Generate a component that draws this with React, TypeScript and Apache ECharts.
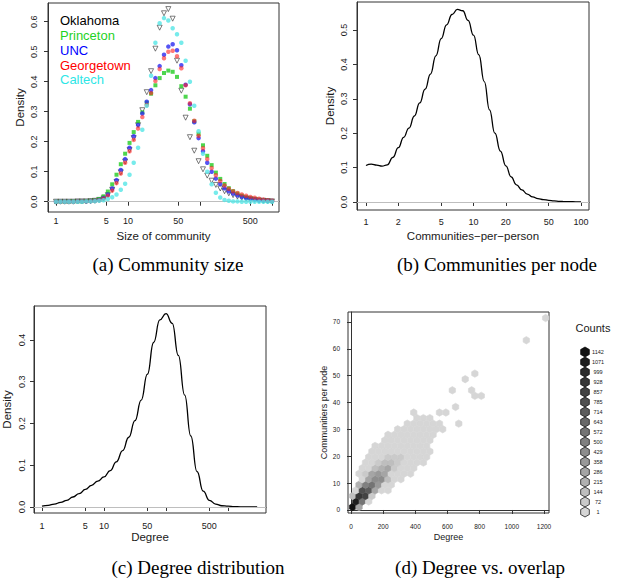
import React, { useEffect, useRef } from "react";
import * as echarts from "echarts";

// ---------- (a) Community size ----------
const communitySize = [
  1, 1.15, 1.32, 1.51, 1.74, 2.0, 2.29, 2.63, 3.02, 3.47,
  3.98, 4.57, 5.25, 6.03, 6.92, 7.94, 9.12, 10.5, 12.0, 13.8,
  15.8, 18.2, 20.9, 24.0, 27.5, 31.6, 36.3, 41.7, 47.9, 55.0,
  63.1, 72.4, 83.2, 95.5, 110, 126, 145, 166, 191, 219,
  251, 288, 331, 380, 437, 501, 575, 661, 759, 871,
  1000,
];
const oklahoma = [
  0, 0, 0, 0, 0, 0.001, 0.001, 0.001, 0.002, 0.003,
  0.006, 0.011, 0.022, 0.04, 0.066, 0.098, 0.134, 0.172, 0.212, 0.255,
  0.305, 0.365, 0.435, 0.51, 0.58, 0.628, 0.642, 0.61, 0.47, 0.37,
  0.28, 0.215, 0.17, 0.135, 0.108, 0.087, 0.07, 0.056, 0.044, 0.035,
  0.028, 0.022, 0.017, 0.013, 0.01, 0.008, 0.006, 0.004, 0.003, 0.002,
  0.001,
];
const princeton = [
  0, 0, 0, 0, 0.001, 0.001, 0.001, 0.002, 0.003, 0.005,
  0.009, 0.018, 0.034, 0.058, 0.09, 0.125, 0.16, 0.196, 0.232, 0.266,
  0.298, 0.33, 0.36, 0.388, 0.412, 0.429, 0.437, 0.433, 0.416, 0.385,
  0.35, 0.31, 0.268, 0.226, 0.188, 0.153, 0.122, 0.097, 0.076, 0.059,
  0.045, 0.035, 0.027, 0.02, 0.015, 0.011, 0.008, 0.006, 0.004, 0.003,
  0.002,
];
const unc = [
  0, 0, 0, 0, 0, 0.001, 0.001, 0.001, 0.002, 0.003,
  0.006, 0.012, 0.024, 0.044, 0.072, 0.106, 0.142, 0.18, 0.218, 0.256,
  0.294, 0.333, 0.372, 0.412, 0.452, 0.49, 0.517, 0.525, 0.505, 0.455,
  0.39, 0.325, 0.265, 0.212, 0.168, 0.13, 0.1, 0.077, 0.059, 0.045,
  0.035, 0.027, 0.021, 0.016, 0.012, 0.009, 0.007, 0.005, 0.004, 0.003,
  0.002,
];
const georgetown = [
  0, 0, 0, 0, 0, 0.001, 0.001, 0.001, 0.002, 0.003,
  0.005, 0.01, 0.02, 0.037, 0.062, 0.094, 0.13, 0.168, 0.206, 0.244,
  0.282, 0.322, 0.362, 0.402, 0.442, 0.478, 0.5, 0.503, 0.485, 0.445,
  0.388, 0.328, 0.27, 0.22, 0.178, 0.142, 0.112, 0.088, 0.069, 0.054,
  0.043, 0.035, 0.029, 0.024, 0.02, 0.016, 0.013, 0.01, 0.007, 0.005,
  0.003,
];
const caltech = [
  0, 0, 0, 0, 0, 0, 0, 0.001, 0.001, 0.002,
  0.003, 0.005, 0.009, 0.015, 0.024, 0.04, 0.06, 0.09, 0.13, 0.18,
  0.24, 0.32, 0.42, 0.53, 0.595, 0.612, 0.604, 0.578, 0.558, 0.53,
  0.47, 0.4, 0.32, 0.235, 0.16, 0.1, 0.058, 0.03, 0.014, 0.006,
  0.003, 0.001, 0.001, 0, 0, 0, 0, 0, 0, 0,
  0,
];
const schoolNames = ["Oklahoma", "Princeton", "UNC", "Georgetown", "Caltech"];
const schoolTextColors = ["#000000", "#1fd21f", "#0000ff", "#ff0000", "#2ee6e6"];
const sizeTicks = [1, 5, 10, 50, 100, 500, 1000];
const sizeTickLabels = [1, 5, 10, 50, 500];
const densityTicksA = [0, 0.1, 0.2, 0.3, 0.4, 0.5, 0.6];

// ---------- (b) Communities per node ----------
const cppX = [
  1, 1.12, 1.26, 1.41, 1.58, 1.78, 2.0, 2.24, 2.51, 2.82,
  3.16, 3.55, 3.98, 4.47, 5.01, 5.62, 6.31, 7.08, 7.94, 8.91,
  10, 11.2, 12.6, 14.1, 15.8, 17.8, 20, 22.4, 25.1, 28.2,
  31.6, 35.5, 39.8, 44.7, 50.1, 56.2, 63.1, 70.8, 79.4, 89.1,
  100,
];
const cppDensity = [
  0.106, 0.11, 0.107, 0.104, 0.108, 0.13, 0.158, 0.188, 0.215, 0.25,
  0.288, 0.328, 0.372, 0.425, 0.475, 0.515, 0.545, 0.56, 0.556, 0.528,
  0.485, 0.428, 0.35, 0.268, 0.2, 0.148, 0.105, 0.073, 0.05, 0.035,
  0.023, 0.015, 0.01, 0.007, 0.005, 0.003, 0.002, 0.001, 0.001, 0.0005,
  0.0002,
];
const cppTicks = [1, 2, 5, 10, 20, 50, 100];
const densityTicksB = [0, 0.1, 0.2, 0.3, 0.4, 0.5];

// ---------- (c) Degree distribution ----------
const degreeX = [
  1, 1.26, 1.58, 2.0, 2.51, 3.16, 3.98, 5.01, 6.31, 7.94,
  10, 12.6, 15.8, 20.0, 25.1, 31.6, 39.8, 50.1, 63.1, 79.4,
  100, 126, 158, 200, 251, 316, 398, 501, 631, 794,
  1000, 1259, 1585, 1995, 2512, 2951,
];
const degreeDensity = [
  0.002, 0.004, 0.007, 0.011, 0.016, 0.024, 0.032, 0.042, 0.052, 0.062,
  0.072, 0.087, 0.108, 0.135, 0.167, 0.207, 0.256, 0.318, 0.394, 0.448,
  0.463, 0.44, 0.363, 0.268, 0.17, 0.085, 0.038, 0.016, 0.007, 0.003,
  0.002, 0.001, 0.0005, 0.0003, 0.0002, 0.0001,
];
const degreeTicks = [1, 5, 10, 50, 100, 500, 1000];
const degreeTickLabels = [1, 5, 10, 50, 500];
const densityTicksC = [0, 0.1, 0.2, 0.3, 0.4];

// ---------- (d) Degree vs. overlap (hexbin) ----------
const HEX_COL_WIDTH = 40; // degree units between cell centres in a row
const HEX_ROW_HEIGHT = 2.07; // communities-per-node units between rows
const HEX_X0 = 10;
const HEX_Y0 = 1.1;
// [row, first column, counts of consecutive cells]
const hexRows: [number, number, number[]][] = [
  [0, 0, [1142, 286]],
  [1, 0, [1071, 572, 40]],
  [2, 0, [144, 928, 857, 72]],
  [3, 0, [30, 785, 714, 286, 15, 5]],
  [4, 1, [215, 500, 572, 358, 40, 6]],
  [5, 1, [60, 286, 429, 429, 144, 20, 5]],
  [6, 1, [20, 100, 286, 358, 286, 60, 15, 4, 1]],
  [7, 1, [10, 40, 144, 215, 286, 100, 30, 10, 3]],
  [8, 2, [15, 40, 100, 144, 180, 100, 30, 8, 2, 1]],
  [9, 2, [10, 20, 40, 72, 100, 72, 30, 10, 3, 1]],
  [10, 3, [10, 30, 50, 60, 40, 25, 12, 6, 3, 1]],
  [11, 3, [5, 15, 30, 40, 40, 30, 15, 8, 4]],
  [12, 5, [8, 15, 25, 25, 18, 10, 5, 2]],
  [13, 5, [3, 8, 12, 15, 12, 8, 4, 2]],
  [14, 7, [3, 6, 8, 8, 6, 3, 2, 1]],
  [15, 8, [2, 4, 5, 4, 2, 1]],
  [15, 16, [1]],
  [16, 10, [1, 2, 1]],
  [17, 9, [1]],
  [17, 13, [1, 1]],
  [18, 16, [1]],
  [20, 19, [1, 1]],
  [21, 15, [1]],
  [21, 18, [1]],
  [23, 17, [1]],
  [24, 19, [1]],
  [30, 27, [1]],
  [34, 30, [1]],
];
const countLevels = [1, 72, 144, 215, 286, 358, 429, 500, 572, 643, 714, 785, 857, 928, 999, 1071, 1142];
const degreeTicksD = [0, 200, 400, 600, 800, 1000, 1200];
const cpnTicks = [0, 10, 20, 30, 40, 50, 60, 70];

// ---------- helpers ----------
const levelGray = (k: number) => {
  const g = Math.round(214 - k * 12.25);
  return `rgb(${g},${g},${g})`;
};
const countColor = (c: number) => {
  let k = 0;
  for (let i = 0; i < countLevels.length; i++) if (c >= countLevels[i]) k = i;
  return levelGray(k);
};

const hexCells: number[][] = [];
hexRows.forEach(([row, start, counts]) => {
  counts.forEach((c, k) => {
    const col = start + k;
    hexCells.push([
      HEX_X0 + HEX_COL_WIDTH * (col + (row % 2 ? 0.5 : 0)),
      HEX_Y0 + HEX_ROW_HEIGHT * row,
      c,
    ]);
  });
});

const SANS = "Liberation Sans";
const SERIF = "Liberation Serif";
const INK = "#1a1a1a";
const BOX = "#333";

const zeroLine = {
  silent: true,
  symbol: ["none", "none"],
  label: { show: false },
  lineStyle: { color: "#bebebe", type: "solid", width: 1 },
  data: [{ yAxis: 0 }],
};

const gridBase = { show: true, borderColor: BOX, borderWidth: 1, outerBoundsMode: "none", containLabel: false };

const logX = (
  gridIndex: number,
  min: number,
  max: number,
  ticks: number[],
  labels: number[],
  name: string,
  margin: number,
  nameGap: number
) => ({
  type: "log",
  logBase: 10,
  gridIndex,
  min,
  max,
  name,
  nameLocation: "middle",
  nameGap,
  nameTextStyle: { fontSize: 11.5, color: INK, fontFamily: SANS },
  axisLine: { show: true, lineStyle: { color: BOX, width: 1 } },
  splitLine: { show: false },
  minorTick: { show: false },
  axisTick: { show: true, inside: false, length: 4, customValues: ticks, lineStyle: { color: BOX } },
  axisLabel: {
    customValues: labels,
    fontSize: 9,
    color: INK,
    fontFamily: SANS,
    margin,
    formatter: (v: number) => String(Math.round(v)),
  },
});

const densY = (
  gridIndex: number,
  min: number,
  max: number,
  ticks: number[],
  margin: number,
  nameGap: number
) => ({
  type: "value",
  gridIndex,
  min,
  max,
  name: "Density",
  nameLocation: "middle",
  nameGap,
  nameTextStyle: { fontSize: 11.5, color: INK, fontFamily: SANS },
  axisLine: { show: true, lineStyle: { color: BOX, width: 1 } },
  splitLine: { show: false },
  axisTick: { show: true, inside: false, length: 4, customValues: ticks, lineStyle: { color: BOX } },
  axisLabel: {
    customValues: ticks,
    rotate: 90,
    fontSize: 9,
    color: INK,
    fontFamily: SANS,
    margin,
    formatter: (v: number) => v.toFixed(1),
  },
});

const schoolSeries = [
  { data: oklahoma, symbol: "triangle", size: 5, rotate: 180, item: { color: "rgba(255,255,255,0)", borderColor: "#333", borderWidth: 0.8 } },
  { data: princeton, symbol: "rect", size: 4, rotate: 0, item: { color: "#22cc22" } },
  { data: unc, symbol: "circle", size: 4.5, rotate: 0, item: { color: "#2a2af0" } },
  { data: georgetown, symbol: "circle", size: 4.5, rotate: 0, item: { color: "rgba(255,30,30,0.75)" } },
  { data: caltech, symbol: "circle", size: 4.5, rotate: 0, item: { color: "#55e6e6" } },
].map((s, i) => ({
  type: "scatter",
  name: schoolNames[i],
  xAxisIndex: 0,
  yAxisIndex: 0,
  symbol: s.symbol,
  symbolSize: s.size,
  symbolRotate: s.rotate,
  itemStyle: s.item,
  data: communitySize.map((x, k) => [x, s.data[k]]),
  markLine: i === 0 ? zeroLine : undefined,
  z: 3 + i,
}));

// hex legend graphics
const legendHexR = 5;
const hexPoints = (cx: number, cy: number, r: number) => {
  const pts: number[][] = [];
  for (let k = 0; k < 6; k++) {
    const a = ((60 * k + 30) * Math.PI) / 180;
    pts.push([cx + r * Math.cos(a), cy + r * Math.sin(a)]);
  }
  return pts;
};
const hexLegend: any[] = [];
const levelsDesc = countLevels.slice().reverse();
levelsDesc.forEach((lv, i) => {
  const cy = 352 + i * 10;
  const k = countLevels.length - 1 - i;
  hexLegend.push({
    type: "polygon",
    shape: { points: hexPoints(585, cy, legendHexR) },
    style: { fill: levelGray(k), stroke: "#000", lineWidth: 0.7 },
    z: 10,
  });
  hexLegend.push({
    type: "text",
    style: {
      text: String(lv),
      x: 598,
      y: cy,
      fill: INK,
      fontSize: 5.5,
      fontFamily: SANS,
      align: "center",
      verticalAlign: "middle",
      textAlign: "center",
      textVerticalAlign: "middle",
    },
    z: 10,
  });
});

const txt = (text: string, x: number, y: number, size: number, family: string, color: string, align = "left") => ({
  type: "text",
  style: {
    text,
    x,
    y,
    fill: color,
    fontSize: size,
    fontFamily: family,
    align,
    verticalAlign: "middle",
    textAlign: align,
    textVerticalAlign: "middle",
  },
  z: 10,
});

const option: any = {
  animation: false,
  backgroundColor: "#ffffff",
  textStyle: { fontFamily: SANS },
  grid: [
    { ...gridBase, left: 48, top: 3, width: 231, height: 209 },
    { ...gridBase, left: 357, top: 2, width: 232, height: 208 },
    { ...gridBase, left: 34, top: 306, width: 232, height: 207 },
    { ...gridBase, left: 348, top: 312, width: 201, height: 201 },
  ],
  xAxis: [
    logX(0, 0.774, 1250, sizeTicks, sizeTickLabels, "Size of community", 4, 18),
    logX(1, 0.825, 118.7, cppTicks, cppTicks, "Communities\u2212per\u2212person", 7, 20),
    logX(2, 0.743, 4100, degreeTicks, degreeTickLabels, "Degree", 8, 18),
    {
      type: "value",
      gridIndex: 3,
      min: -18.7,
      max: 1231,
      name: "Degree",
      nameLocation: "middle",
      nameGap: 19,
      nameTextStyle: { fontSize: 9, color: INK, fontFamily: SANS },
      axisLine: { show: true, lineStyle: { color: BOX } },
      splitLine: { show: false },
      axisTick: { show: true, inside: false, length: 4, customValues: degreeTicksD, lineStyle: { color: BOX } },
      axisLabel: {
        customValues: degreeTicksD,
        fontSize: 6.5,
        color: INK,
        fontFamily: SANS,
        margin: 10,
        formatter: (v: number) => String(v),
      },
    },
  ],
  yAxis: [
    densY(0, -0.0343, 0.6623, densityTicksA, 10, 22),
    densY(1, -0.02326, 0.5814, densityTicksB, 9, 21),
    densY(2, -0.01437, 0.4814, densityTicksC, 8, 21),
    {
      type: "value",
      gridIndex: 3,
      min: -1.117,
      max: 73.72,
      name: "Communitiers per node",
      nameLocation: "middle",
      nameGap: 20,
      nameTextStyle: { fontSize: 9, color: INK, fontFamily: SANS },
      axisLine: { show: true, lineStyle: { color: BOX } },
      splitLine: { show: false },
      axisTick: { show: true, inside: false, length: 4, customValues: cpnTicks, lineStyle: { color: BOX } },
      axisLabel: {
        customValues: cpnTicks,
        fontSize: 6.5,
        color: INK,
        fontFamily: SANS,
        margin: 8,
        formatter: (v: number) => String(v),
      },
    },
  ],
  series: [
    ...schoolSeries,
    {
      type: "line",
      name: "Communities per node",
      xAxisIndex: 1,
      yAxisIndex: 1,
      showSymbol: false,
      smooth: 0.5,
      smoothMonotone: "x",
      lineStyle: { color: "#000", width: 1.3 },
      data: cppX.map((x, i) => [x, cppDensity[i]]),
      markLine: zeroLine,
    },
    {
      type: "line",
      name: "Degree distribution",
      xAxisIndex: 2,
      yAxisIndex: 2,
      showSymbol: false,
      smooth: 0.5,
      smoothMonotone: "x",
      lineStyle: { color: "#000", width: 1.3 },
      data: degreeX.map((x, i) => [x, degreeDensity[i]]),
      markLine: zeroLine,
    },
    {
      type: "custom",
      name: "Counts",
      xAxisIndex: 3,
      yAxisIndex: 3,
      encode: { x: 0, y: 1 },
      data: hexCells,
      renderItem: (params: any, api: any) => {
        const c = api.coord([api.value(0), api.value(1)]);
        const w = api.size([HEX_COL_WIDTH, 0])[0];
        const r = w / Math.sqrt(3);
        const col = countColor(api.value(2));
        return {
          type: "polygon",
          shape: { points: hexPoints(c[0], c[1], r) },
          style: { fill: col, stroke: col, lineWidth: 0.6 },
        };
      },
    },
  ],
  graphic: [
    ...schoolNames.map((n, i) => txt(n, 60, 20.7 + i * 14.8, 13, SANS, schoolTextColors[i])),
    txt("(a) Community size", 168, 264, 19, SERIF, "#000", "center"),
    txt("(b) Communities per node", 497, 264, 19, SERIF, "#000", "center"),
    txt("(c) Degree distribution", 198, 567, 19, SERIF, "#000", "center"),
    txt("(d) Degree vs. overlap", 480, 567, 19, SERIF, "#000", "center"),
    txt("Counts", 593, 328, 11, SANS, INK, "center"),
    ...hexLegend,
  ],
};

export default function App() {
  const ref = useRef<HTMLDivElement>(null);
  useEffect(() => {
    document.body.style.margin = "0";
    const chart = echarts.init(ref.current!, undefined, { renderer: "svg", width: 624, height: 586 });
    chart.setOption(option);
    return () => chart.dispose();
  }, []);
  return <div ref={ref} style={{ width: 624, height: 586 }} />;
}
